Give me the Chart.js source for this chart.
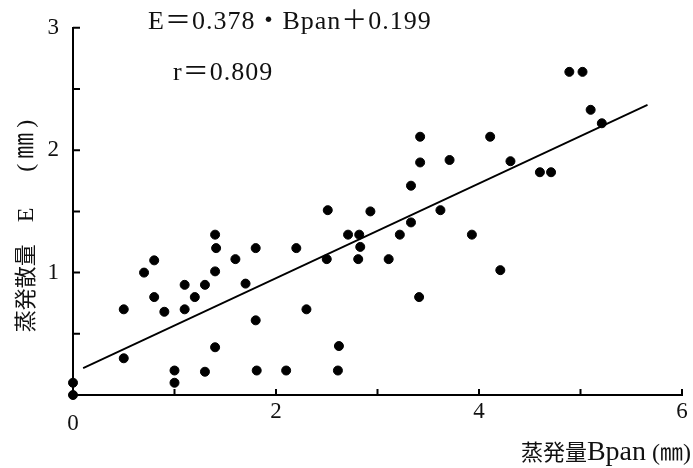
<!DOCTYPE html>
<html>
<head>
<meta charset="utf-8">
<script src="https://cdn.jsdelivr.net/npm/chart.js@4/dist/chart.umd.min.js"></script>
<style>
  html, body { margin: 0; padding: 0; background: #fff; }
</style>
</head>
<body>
<canvas id="chart" width="693" height="468"></canvas>
<script>
// pan evaporation Bpan (mm) vs evapotranspiration E (mm)
const bpanValues = [0, 0, 0.5, 0.5, 0.7, 0.8, 0.8, 0.9, 1.0, 1.0, 1.1, 1.1, 1.2, 1.3, 1.3,
    1.4, 1.41, 1.4, 1.4, 1.6, 1.7, 1.8, 1.8, 1.81, 2.1, 2.2, 2.3, 2.51, 2.5, 2.62, 2.61,
    2.71, 2.82, 2.83, 2.81, 2.93, 3.11, 3.22, 3.33, 3.62, 3.41, 3.93, 4.21, 4.89, 5.02,
    5.1, 5.21, 3.42, 3.42, 3.33, 3.71, 4.11, 4.31, 4.6, 4.71];
const evapValues = [0.1, 0, 0.7, 0.3, 1.0, 1.1, 0.8, 0.68, 0.2, 0.1, 0.9, 0.7, 0.8, 0.9, 0.19,
    1.31, 1.2, 1.01, 0.39, 1.11, 0.91, 1.2, 0.61, 0.2, 0.2, 1.2, 0.7, 1.51, 1.11, 0.4, 0.2,
    1.31, 1.31, 1.21, 1.11, 1.5, 1.11, 1.31, 1.41, 1.51, 0.8, 1.31, 1.02, 2.64, 2.64,
    2.33, 2.22, 2.11, 1.9, 1.71, 1.92, 2.11, 1.91, 1.82, 1.82];

// regression line end points as drawn
const fitX = [0.1, 5.66];
const fitY = [0.22, 2.37];

const xTickValues = [0, 1, 2, 3, 4, 5, 6];
const xTickLabels = [2, 4, 6];   // the origin "0" is drawn a bit lower, on its own
const yTickValues = [0, 0.5, 1, 1.5, 2, 2.5, 3];
const yTickLabels = [1, 2, 3];

const equationText = 'E＝0.378・Bpan＋0.199';
const rText = 'r＝0.809';

const SERIF = "'Liberation Serif', 'Noto Sans CJK JP', serif";
const CJK = "'Noto Sans CJK JP', sans-serif";

// draws text pieces one after another; {gap: n} just moves the pen
function drawRuns(ctx, runs, x, y, align) {
    const widthOf = r => {
        if (r.gap) return r.gap;
        ctx.font = r.font;
        return ctx.measureText(r.text).width;
    };
    const total = runs.reduce((s, r) => s + widthOf(r), 0);
    let cx = align === 'right' ? x - total : align === 'center' ? x - total / 2 : x;
    runs.forEach(r => {
        const w = widthOf(r);
        if (!r.gap) ctx.fillText(r.text, cx, y);
        cx += w;
    });
}

// inward tick marks, axis titles and the regression text
const decorations = {
    id: 'decorations',
    afterDraw(chart) {
        const ctx = chart.ctx;
        const xs = chart.scales.x, ys = chart.scales.y;
        const area = chart.chartArea;
        ctx.save();
        ctx.strokeStyle = '#000';
        ctx.lineWidth = 2;
        ctx.beginPath();
        xTickValues.forEach(v => {
            const px = xs.getPixelForValue(v);
            ctx.moveTo(px, area.bottom);
            ctx.lineTo(px, area.bottom - 6);
        });
        yTickValues.forEach(v => {
            const py = ys.getPixelForValue(v);
            ctx.moveTo(area.left, py);
            ctx.lineTo(area.left + 7, py);
        });
        ctx.stroke();

        ctx.fillStyle = '#111';
        ctx.textBaseline = 'alphabetic';

        // origin label
        ctx.font = "23px " + SERIF;
        ctx.textAlign = 'center';
        ctx.fillText('0', xs.getPixelForValue(0), area.bottom + 35);
        ctx.textAlign = 'left';

        ctx.font = "26px " + SERIF;
        ctx.letterSpacing = '1px';
        ctx.fillText(equationText, 148, 29);
        ctx.fillText(rText, 173, 80);
        ctx.letterSpacing = '0px';

        // x axis title
        drawRuns(ctx, [
            { text: '蒸発量', font: "22px " + CJK },
            { text: 'Bpan', font: "28px " + SERIF },
            { gap: 6 },
            { text: '(', font: "24px " + SERIF },
            { text: '㎜', font: "23px " + CJK },
            { text: ')', font: "24px " + SERIF }
        ], 691, 460, 'right');

        // y axis title
        ctx.translate(33, 226);
        ctx.rotate(-Math.PI / 2);
        drawRuns(ctx, [
            { text: '蒸発散量', font: "22px " + CJK },
            { gap: 22 },
            { text: 'E', font: "24px " + SERIF },
            { gap: 36 },
            { text: '(', font: "24px " + SERIF },
            { gap: 5 },
            { text: '㎜', font: "26px " + CJK },
            { gap: 5 },
            { text: ')', font: "24px " + SERIF }
        ], 0, 0, 'center');
        ctx.restore();
    }
};

const scatterPoints = bpanValues.map((x, i) => ({ x, y: evapValues[i] }));
const linePoints = fitX.map((x, i) => ({ x, y: fitY[i] }));

new Chart(document.getElementById('chart'), {
    data: {
        datasets: [
            {
                type: 'scatter',
                data: scatterPoints,
                backgroundColor: '#000',
                borderColor: '#000',
                pointRadius: 4.5,
                pointHoverRadius: 4.5,
                clip: false
            },
            {
                type: 'line',
                data: linePoints,
                borderColor: '#000',
                borderWidth: 1.8,
                pointRadius: 0,
                fill: false
            }
        ]
    },
    options: {
        responsive: false,
        animation: false,
        events: [],
        layout: { padding: { top: 25, right: 11, left: 0, bottom: 0 } },
        plugins: { legend: { display: false }, tooltip: { enabled: false } },
        scales: {
            x: {
                type: 'linear',
                min: 0,
                max: 6,
                grid: { display: false, drawTicks: false },
                border: { display: true, color: '#000', width: 2 },
                ticks: {
                    stepSize: 1,
                    maxRotation: 0,
                    autoSkip: false,
                    padding: 3,
                    color: '#111',
                    font: { family: SERIF, size: 23 },
                    callback: v => xTickLabels.includes(v) ? String(v) : ''
                },
                afterFit: s => { s.height = 73; }
            },
            y: {
                type: 'linear',
                min: 0,
                max: 3,
                grid: { display: false, drawTicks: false },
                border: { display: true, color: '#000', width: 2 },
                ticks: {
                    stepSize: 1,
                    padding: 14,
                    color: '#111',
                    font: { family: SERIF, size: 23 },
                    callback: v => yTickLabels.includes(v) ? String(v) : ''
                },
                afterFit: s => { s.width = 73; }
            }
        }
    },
    plugins: [decorations]
});
</script>
</body>
</html>
